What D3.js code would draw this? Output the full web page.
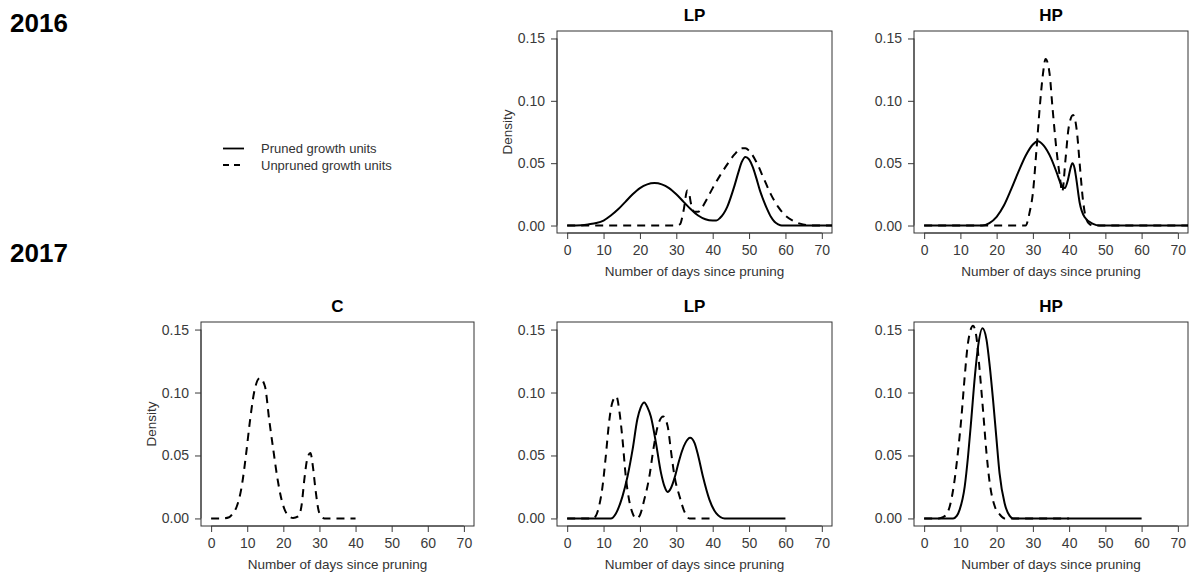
<!DOCTYPE html>
<html>
<head>
<meta charset="utf-8">
<script src="https://cdn.jsdelivr.net/npm/d3@7"></script>
<style>
  html, body { margin: 0; padding: 0; background: #fff; }
  svg { display: block; font-family: "Liberation Sans", Arial, sans-serif; }
</style>
</head>
<body>
<svg id="chart" width="1190" height="574"></svg>
<script>
// ---------------- DATA ----------------
const xTicks = [0, 10, 20, 30, 40, 50, 60, 70];
const yTicks = [0, 0.05, 0.10, 0.15];
const yTickLabels = ["0.00", "0.05", "0.10", "0.15"];
const years = ["2016", "2017"];
const legendLabels = ["Pruned growth units", "Unpruned growth units"];

// [day, density]
const lp2016Pruned = [[0,0],[4,0.0003],[6,0.001],[8,0.002],[10,0.004],[12,0.008],[14,0.013],[16,0.019],[18,0.025],[20,0.030],[22,0.033],[24,0.034],[26,0.033],[28,0.030],[30,0.025],[32,0.019],[34,0.013],[36,0.008],[38,0.005],[40,0.004],[41,0.004],[42,0.006],[44,0.015],[46,0.032],[47,0.042],[48,0.051],[49,0.055],[50,0.053],[51,0.047],[52,0.038],[53,0.028],[54,0.020],[55,0.013],[56,0.007],[57,0.003],[58,0.001],[59,0],[75,0]];
const lp2016Unpruned = [[0,0],[30,0],[31,0.001],[32,0.012],[33,0.028],[33.5,0.026],[34,0.018],[35,0.011],[36,0.011],[37,0.014],[38,0.019],[40,0.030],[42,0.040],[44,0.049],[46,0.057],[48,0.062],[49,0.062],[50,0.060],[52,0.051],[54,0.038],[56,0.025],[58,0.015],[60,0.008],[62,0.004],[64,0.0015],[66,0.0003],[68,0],[75,0]];
const hp2016Pruned = [[0,0],[16,0],[18,0.002],[20,0.007],[22,0.016],[24,0.029],[26,0.043],[28,0.056],[30,0.065],[31.4,0.0675],[33,0.064],[35,0.054],[36.5,0.043],[37.8,0.033],[38.8,0.030],[39.7,0.037],[40.3,0.045],[40.9,0.050],[41.5,0.046],[42,0.037],[42.9,0.0185],[44.3,0.0066],[46.6,0.0013],[48.4,0],[75,0]];
const hp2016Unpruned = [[0,0],[28,0],[29.1,0.0106],[30,0.026],[31,0.061],[31.9,0.095],[32.8,0.122],[33.5,0.1336],[34.6,0.122],[35.4,0.095],[36.5,0.061],[37.4,0.040],[38.1,0.027],[39,0.053],[39.9,0.079],[41.1,0.0886],[42.2,0.074],[42.9,0.050],[43.8,0.021],[44.7,0.0053],[45.7,0.001],[47,0],[75,0]];

const c2017Unpruned = [[0,0],[3,0],[5,0.001],[6,0.004],[7.1,0.0095],[8.45,0.025],[9.6,0.049],[10.7,0.076],[11.9,0.100],[13.5,0.1115],[14.9,0.105],[16.1,0.078],[17.2,0.055],[18.3,0.033],[19.5,0.015],[20.9,0.004],[22.7,0.0003],[24.1,0.0016],[25,0.0095],[25.9,0.033],[26.6,0.047],[27.5,0.052],[28.2,0.041],[28.9,0.023],[30,0.004],[31.4,0],[40,0]];
const lp2017Pruned = [[0,0],[12,0],[13.4,0.004],[15.2,0.0175],[16.6,0.0335],[18,0.055],[19.3,0.079],[20.2,0.088],[21.2,0.092],[22.1,0.088],[23,0.081],[24.4,0.060],[25.8,0.036],[26.8,0.025],[27.6,0.021],[28.5,0.024],[29.5,0.032],[30.5,0.043],[31.5,0.053],[32.5,0.060],[33.8,0.064],[35,0.060],[36,0.050],[37.3,0.0335],[39.1,0.015],[41,0.004],[43.3,0],[60,0]];
const lp2017Unpruned = [[0,0],[7,0],[7.8,0.0016],[8.75,0.0095],[9.7,0.025],[10.6,0.049],[11.5,0.076],[12.4,0.092],[13.5,0.097],[14.4,0.084],[15.2,0.063],[16.1,0.0335],[17,0.015],[18,0.004],[18.9,0],[19.8,0.0016],[21.2,0.015],[22.6,0.0335],[23.7,0.055],[24.9,0.0735],[26.4,0.081],[27.6,0.0735],[28.6,0.052],[29.5,0.0335],[30.9,0.0175],[32.2,0.0056],[33.6,0],[40,0]];
const hp2017Pruned = [[0,0],[8,0],[9,0.002],[9.8,0.007],[11.2,0.0255],[12.1,0.049],[13,0.0785],[14,0.113],[14.9,0.137],[16.1,0.151],[17.2,0.142],[18.1,0.121],[19,0.0945],[19.9,0.065],[20.8,0.036],[22.2,0.012],[23.6,0.002],[24.5,0],[60,0]];
const hp2017Unpruned = [[0,0],[4,0],[5.2,0.001],[6.6,0.0056],[8,0.0228],[9.4,0.0546],[10.3,0.081],[11.2,0.113],[12.1,0.1395],[13.5,0.153],[14.4,0.1445],[15.3,0.118],[16.3,0.084],[17.2,0.052],[18.1,0.028],[19.5,0.0095],[20.9,0.003],[22.2,0],[40,0]];

// ---------------- LAYOUT ----------------
const cols = { C: [201, 474], LP: [557, 832], HP: [914, 1188] };
const rows = { "2016": [31, 233], "2017": [322, 526] };

const panels = [
  { title: "LP", col: "LP", row: "2016", density: true,  series: [lp2016Pruned, lp2016Unpruned] },
  { title: "HP", col: "HP", row: "2016", density: false, series: [hp2016Pruned, hp2016Unpruned] },
  { title: "C",  col: "C",  row: "2017", density: true,  series: [null, c2017Unpruned] },
  { title: "LP", col: "LP", row: "2017", density: false, series: [lp2017Pruned, lp2017Unpruned] },
  { title: "HP", col: "HP", row: "2017", density: false, series: [hp2017Pruned, hp2017Unpruned] }
];

const svg = d3.select("#chart");
const dashes = [null, "8,6"];
const tickColor = "#3a3a3a";

panels.forEach((p, i) => {
  const [x0, x1] = cols[p.col];
  const [y0, y1] = rows[p.row];
  const x = d3.scaleLinear().domain([-2.8, 72.8]).range([x0, x1]);
  const y = d3.scaleLinear().domain([-0.006, 0.156]).range([y1, y0]);
  const g = svg.append("g");

  const clipId = "clip" + i;
  g.append("clipPath").attr("id", clipId).append("rect")
    .attr("x", x0).attr("y", y0).attr("width", x1 - x0).attr("height", y1 - y0);

  // axes
  const xAxis = d3.axisBottom(x).tickValues(xTicks).tickSize(6).tickPadding(3).tickFormat(d3.format("d"));
  const gx = g.append("g").attr("transform", `translate(0,${y1})`).call(xAxis);
  const yAxis = d3.axisLeft(y).tickValues(yTicks).tickSize(6).tickPadding(6)
    .tickFormat((d, j) => yTickLabels[j]);
  const gy = g.append("g").attr("transform", `translate(${x0},0)`).call(yAxis);
  [gx, gy].forEach(a => {
    a.select(".domain").remove();
    a.selectAll(".tick line").attr("stroke", tickColor).attr("stroke-width", 1);
    a.selectAll(".tick text").attr("fill", tickColor).style("font-size", "14px")
      .style("font-family", '"Liberation Sans", Arial, sans-serif');
  });
  gx.selectAll(".tick text").attr("dy", "0.9em");
  // R style axis lines from first to last tick
  g.append("line").attr("x1", x(0)).attr("x2", x(70)).attr("y1", y1).attr("y2", y1).attr("stroke", tickColor);
  g.append("line").attr("x1", x0).attr("x2", x0).attr("y1", y(0)).attr("y2", y(0.15)).attr("stroke", tickColor);

  // box
  g.append("rect").attr("x", x0).attr("y", y0).attr("width", x1 - x0).attr("height", y1 - y0)
    .attr("fill", "none").attr("stroke", "#333").attr("stroke-width", 1);

  // lines
  const line = d3.line().x(d => x(d[0])).y(d => y(d[1])).curve(d3.curveMonotoneX);
  p.series.forEach((s, k) => {
    if (!s) return;
    g.append("path").datum(s).attr("d", line).attr("clip-path", `url(#${clipId})`)
      .attr("fill", "none").attr("stroke", "#000").attr("stroke-width", 2)
      .attr("stroke-dasharray", dashes[k]);
  });

  // title
  g.append("text").attr("x", (x0 + x1) / 2).attr("y", y0 - 10).attr("text-anchor", "middle")
    .style("font-size", "17px").style("font-weight", "bold").attr("fill", "#000").text(p.title);
  // x label
  g.append("text").attr("x", (x0 + x1) / 2).attr("y", y1 + 42.5).attr("text-anchor", "middle")
    .style("font-size", "13.5px").attr("fill", "#333").text("Number of days since pruning");
  if (p.density) {
    g.append("text").attr("transform", `translate(${x0 - 45},${(y0 + y1) / 2}) rotate(-90)`)
      .attr("text-anchor", "middle").style("font-size", "13.5px").attr("fill", "#333").text("Density");
  }
});

// year labels
svg.append("text").attr("x", 10).attr("y", 32).style("font-size", "26px").style("font-weight", "bold").text(years[0]);
svg.append("text").attr("x", 10).attr("y", 262).style("font-size", "26px").style("font-weight", "bold").text(years[1]);

// legend
const leg = svg.append("g");
legendLabels.forEach((t, k) => {
  const yy = 148.5 + k * 16.5;
  leg.append("line").attr("x1", 223).attr("x2", 244).attr("y1", yy).attr("y2", yy)
    .attr("stroke", "#000").attr("stroke-width", 1.8).attr("stroke-dasharray", k ? "6,5" : null);
  leg.append("text").attr("x", 261).attr("y", yy + 4.5).style("font-size", "13px").attr("fill", "#333").text(t);
});
</script>
</body>
</html>
